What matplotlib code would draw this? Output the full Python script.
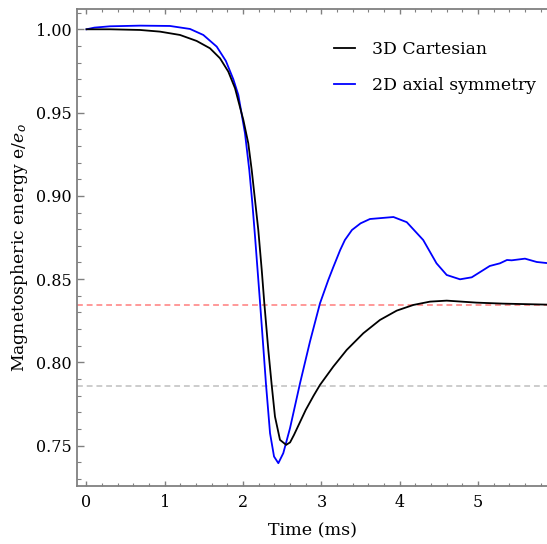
import matplotlib
matplotlib.use('Agg')
import matplotlib.pyplot as plt
from matplotlib.ticker import MultipleLocator, FormatStrFormatter

plt.rcParams['font.family'] = ['DejaVu Serif']
plt.rcParams['mathtext.fontset'] = 'dejavuserif'

# 3D Cartesian run
t_cart = [0.0, 0.3, 0.683, 0.939, 1.194, 1.407, 1.577, 1.705, 1.811, 1.897, 2.003,
          2.066, 2.110, 2.152, 2.194, 2.238, 2.271, 2.322, 2.365, 2.407, 2.471, 2.55,
          2.60, 2.65, 2.72, 2.80, 2.90, 2.982, 3.152, 3.323, 3.535, 3.748, 3.962, 4.174,
          4.387, 4.6, 4.98, 5.32, 5.88]
e_cart = [1.0, 1.0, 0.9996, 0.9986, 0.9966, 0.9930, 0.9886, 0.9826, 0.9746, 0.9646,
          0.9456, 0.9316, 0.9155, 0.8975, 0.8795, 0.8555, 0.8355, 0.8075, 0.7865,
          0.7675, 0.7535, 0.7505, 0.7520, 0.7565, 0.7635, 0.7715, 0.7800, 0.7865,
          0.7975, 0.8075, 0.8175, 0.8255, 0.8311, 0.8345, 0.8365, 0.8371, 0.8359,
          0.8353, 0.8347]

# 2D axisymmetric run
t_axi = [0.0, 0.1, 0.3, 0.683, 1.066, 1.322, 1.492, 1.663, 1.78, 1.875, 1.939, 2.024,
         2.079, 2.118, 2.152, 2.181, 2.216, 2.258, 2.292, 2.344, 2.395, 2.45, 2.513,
         2.599, 2.727, 2.854, 2.982, 3.088, 3.15, 3.24, 3.30, 3.39, 3.50, 3.62, 3.92,
         4.09, 4.3, 4.47, 4.6, 4.77, 4.92, 5.15, 5.28, 5.37, 5.43, 5.6, 5.75, 5.87]
e_axi = [1.0, 1.001, 1.0018, 1.0022, 1.0020, 1.0002, 0.9966, 0.9896, 0.981, 0.970,
         0.9606, 0.9376, 0.9155, 0.8956, 0.8758, 0.8578, 0.8362, 0.8092, 0.7871,
         0.7575, 0.7435, 0.7395, 0.7455, 0.7605, 0.7875, 0.8125, 0.8355, 0.8495,
         0.8570, 0.8675, 0.8735, 0.8795, 0.8835, 0.8861, 0.8873, 0.8842, 0.8735,
         0.8595, 0.8525, 0.8499, 0.8511, 0.8579, 0.8595, 0.8615, 0.8613, 0.8623,
         0.8603, 0.8597]

ref_levels = [0.8345, 0.7858]
ref_colors = ['#ff9999', '#cccccc']

fig = plt.figure(figsize=(5.47, 5.44), dpi=100)
ax = fig.add_axes([0.1408, 0.1066, 0.8592, 0.8769])

for lvl, c in zip(ref_levels, ref_colors):
    ax.axhline(lvl, color=c, linestyle=(0, (3, 2)), linewidth=1.4, zorder=1)

ax.plot(t_cart, e_cart, color='black', linewidth=1.3, label='3D Cartesian', zorder=3)
ax.plot(t_axi, e_axi, color='#0000ff', linewidth=1.3, label='2D axial symmetry', zorder=2)

ax.set_xlim(-0.121, 5.881)
ax.set_ylim(0.7258, 1.0122)

ax.xaxis.set_major_locator(MultipleLocator(1))
ax.xaxis.set_minor_locator(MultipleLocator(0.2))
ax.yaxis.set_major_locator(MultipleLocator(0.05))
ax.yaxis.set_minor_locator(MultipleLocator(0.01))
ax.yaxis.set_major_formatter(FormatStrFormatter('%.2f'))

frame = '#808080'
for side in ['left', 'bottom', 'top']:
    ax.spines[side].set_color(frame)
    ax.spines[side].set_linewidth(1.3)
ax.spines['right'].set_visible(False)

ax.tick_params(which='both', direction='in', color=frame, top=True, right=False,
               labelsize=11.5)
ax.tick_params(axis='y', which='major', length=5, width=1, pad=4)
ax.tick_params(axis='y', which='minor', length=3, width=0.8)
ax.tick_params(axis='x', which='major', length=3.5, width=1, pad=6)
ax.tick_params(axis='x', which='minor', length=2.2, width=0.8)

ax.set_xlabel('Time (ms)', fontsize=12.6, labelpad=8)
ax.set_ylabel('Magnetospheric energy e/$e_o$', fontsize=12.4, labelpad=4)

ax.legend(loc='upper right', bbox_to_anchor=(1.01, 0.965), frameon=False, fontsize=12.4,
          handlelength=1.2, handletextpad=1.0, labelspacing=1.1)

fig.savefig('out.png', dpi=100)
